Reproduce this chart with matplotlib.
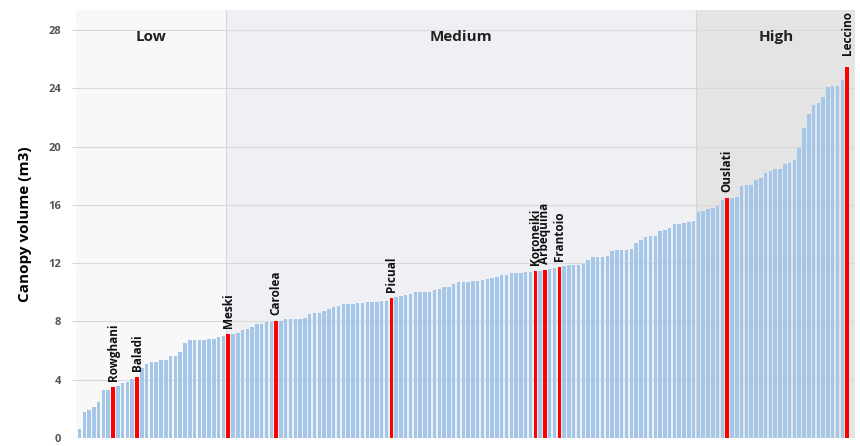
import matplotlib
matplotlib.use("Agg")
import matplotlib.pyplot as plt

values = [0.6,1.76,1.9,2.1,2.5,3.3,3.3,3.5,3.55,3.8,3.85,4.05,4.2,4.8,5.07,5.2,5.25,5.35,5.35,5.6,5.65,5.9,6.5,6.7,6.75,6.75,6.75,6.8,6.8,6.9,7.0,
          7.14,7.14,7.2,7.4,7.5,7.6,7.8,7.8,7.95,7.95,8.05,8.05,8.15,
          8.17,8.17,8.17,8.25,8.5,8.6,8.6,8.7,8.85,9.0,9.05,9.2,9.2,9.2,9.3,9.3,9.35,9.35,9.35,9.43,9.43,9.6,9.65,9.77,9.83,9.9,
          10.0,10.0,10.0,10.0,10.15,10.2,10.35,10.35,10.6,10.73,10.73,10.73,10.77,10.77,10.85,10.9,11.0,11.03,11.17,11.17,11.33,11.33,11.33,11.4,11.4,
          11.45,11.45,11.53,11.57,11.7,11.73,11.8,
          11.87,11.87,11.87,11.94,12.2,12.4,12.4,12.4,12.5,12.83,12.9,12.9,12.9,12.97,13.36,13.6,13.77,13.84,13.84,14.2,14.28,14.39,14.67,14.67,14.73,14.8,14.9,
          15.5,15.6,15.7,15.76,15.94,16.36,16.5,
          16.5,16.55,17.27,17.4,17.4,17.68,17.87,18.17,18.34,18.44,18.44,18.78,18.9,19.12,19.93,21.26,22.26,22.86,22.98,23.4,24.07,24.18,24.18,24.6,25.46]
highlight = {"Rowghani":7,"Baladi":12,"Meski":31,"Carolea":41,"Picual":65,"Koroneiki":95,
             "Arbequina":97,"Frantoio":100,"Ouslati":135,"Leccino":160}
regions = [("Low",-0.8,30.5,"#f8f8f9"),("Medium",30.5,128.5,"#eef0f4"),("High",128.5,162,"#e4e4e4")]
yticks = [0,4,8,12,16,20,24,28]

fig = plt.figure(figsize=(8.6,4.46),dpi=100)
ax = fig.add_axes([0.084,0.018,0.91,0.96])
ymax = 29.4
for name,a,b,c in regions:
    ax.axvspan(a,b,color=c,zorder=0,lw=0)
    ax.text((a+b)/2,27.5,name,ha="center",va="center",fontsize=11,fontweight="bold",family="Open Sans",color="#222")
ax.axvline(30.5,color="#d5d5d5",lw=0.8,zorder=0.5)
ax.axvline(128.5,color="#d5d5d5",lw=0.8,zorder=0.5)
for t in yticks:
    ax.axhline(t,color="#d9d9d9",lw=0.8,zorder=0.6)
red = set(highlight.values())
cols = ["#ff0000" if i in red else "#a4c6e8" for i in range(len(values))]
ax.bar(range(len(values)),values,width=0.72,color=cols,zorder=2)
for name,i in highlight.items():
    y = values[i]+0.4
    if name=="Leccino":
        y = 26.3
    ax.text(i,y,name,rotation=90,ha="center",va="bottom",fontsize=8.5,fontweight="bold",family="Open Sans",color="#111")
ax.set_xlim(-1.5,161.6)
ax.set_ylim(0,ymax)
ax.set_yticks(yticks)
ax.set_yticklabels([str(t) for t in yticks],fontsize=8,fontweight="bold",color="#555",family="Open Sans")
ax.set_xticks([])
for s in ax.spines.values():
    s.set_visible(False)
ax.tick_params(axis="y",length=0,pad=8)
ax.set_ylabel("Canopy volume (m3)",fontsize=11,fontweight="bold",family="Open Sans",labelpad=12)
fig.savefig("out.png",dpi=100)
